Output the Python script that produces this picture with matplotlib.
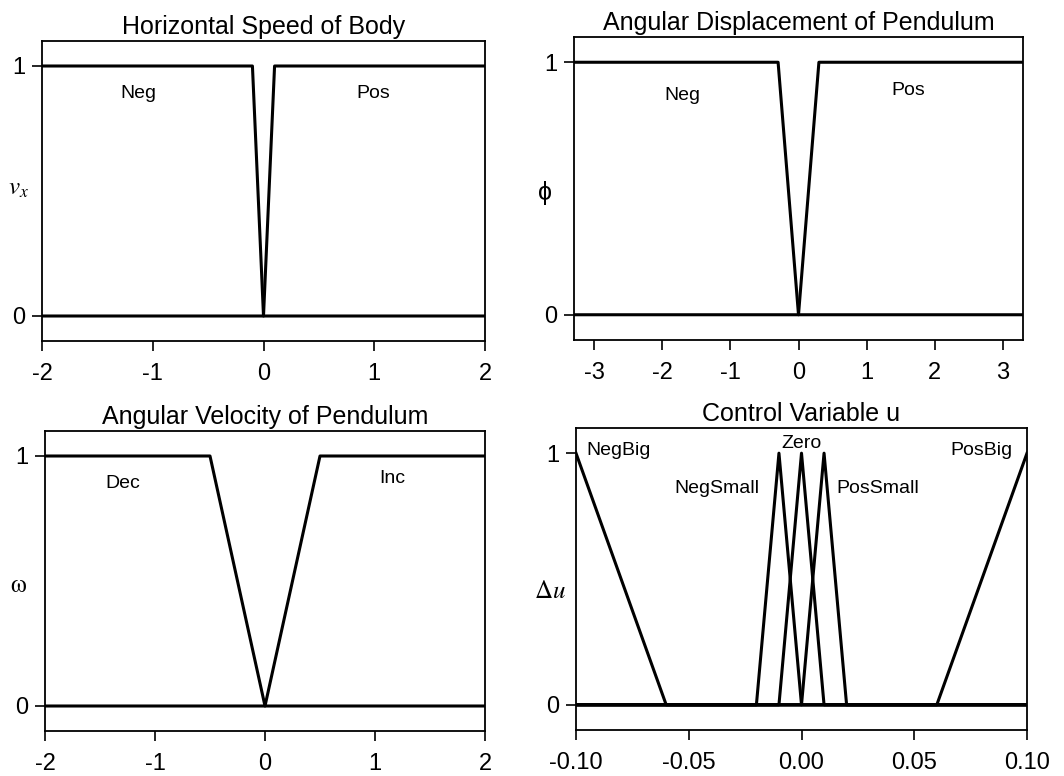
"""Membership functions of the fuzzy pendulum controller, 2x2 panels."""

import matplotlib
matplotlib.use("Agg")
import matplotlib.pyplot as plt
from matplotlib.ticker import FormatStrFormatter

plt.rcParams["font.family"] = ["Liberation Sans", "DejaVu Sans"]
plt.rcParams["mathtext.fontset"] = "stix"
plt.rcParams["axes.unicode_minus"] = False

# Horizontal speed of body
vx_x = [-2, -0.1, 0, 0.1, 2]
vx_neg = [1, 1, 0, 0, 0]
vx_pos = [0, 0, 0, 1, 1]

# Angular displacement of pendulum
phi_x = [-3.3, -0.3, 0, 0.3, 3.3]
phi_neg = [1, 1, 0, 0, 0]
phi_pos = [0, 0, 0, 1, 1]

# Angular velocity of pendulum
om_x = [-2, -0.5, 0, 0.5, 2]
om_dec = [1, 1, 0, 0, 0]
om_inc = [0, 0, 0, 1, 1]

# Control variable u
u_x = [-0.10, -0.06, -0.02, -0.01, 0.0, 0.01, 0.02, 0.06, 0.10]
u_negbig = [1, 0, 0, 0, 0, 0, 0, 0, 0]
u_negsmall = [0, 0, 0, 1, 0, 0, 0, 0, 0]
u_zero = [0, 0, 0, 0, 1, 0, 0, 0, 0]
u_possmall = [0, 0, 0, 0, 0, 1, 0, 0, 0]
u_posbig = [0, 0, 0, 0, 0, 0, 0, 0, 1]

W, H = 1064, 776
fig = plt.figure(figsize=(W / 100, H / 100), dpi=100)

TICK_FS = 17
TITLE_FS = 18
NOTE_FS = 14
LW = 2.2


def px_axes(left, top, right, bottom):
    return fig.add_axes([left / W, 1 - bottom / H, (right - left) / W, (bottom - top) / H])


def style(ax, title, ylabel, label_xy, xlim, xticks):
    ax.set_xlim(*xlim)
    ax.set_ylim(-0.1, 1.1)
    ax.set_yticks([0, 1])
    ax.set_xticks(xticks)
    ax.tick_params(direction="out", length=7, width=1.2, labelsize=TICK_FS, color="black")
    ax.tick_params(axis="y", pad=5)
    ax.tick_params(axis="x", pad=9)
    for s in ax.spines.values():
        s.set_linewidth(1.3)
    ax.set_title(title, fontsize=TITLE_FS, pad=5)
    ax.set_ylabel(ylabel, rotation=0, fontsize=18, ha="center", va="center")
    ax.yaxis.set_label_coords(*label_xy)


# panel 1
ax1 = px_axes(42, 41, 485, 341)
ax1.plot(vx_x, vx_neg, color="black", lw=LW)
ax1.plot(vx_x, vx_pos, color="black", lw=LW)
ax1.text(-1.13, 0.89, "Neg", ha="center", va="center", fontsize=NOTE_FS)
ax1.text(0.99, 0.89, "Pos", ha="center", va="center", fontsize=NOTE_FS)
style(ax1, "Horizontal Speed of Body", r"$v_x$", (-0.054, 0.51), (-2, 2), [-2, -1, 0, 1, 2])

# panel 2
ax2 = px_axes(574, 37, 1023, 340)
ax2.plot(phi_x, phi_neg, color="black", lw=LW)
ax2.plot(phi_x, phi_pos, color="black", lw=LW)
ax2.text(-1.7, 0.87, "Neg", ha="center", va="center", fontsize=NOTE_FS)
ax2.text(1.62, 0.89, "Pos", ha="center", va="center", fontsize=NOTE_FS)
style(ax2, "Angular Displacement of Pendulum", "ϕ", (-0.065, 0.485), (-3.3, 3.3),
      [-3, -2, -1, 0, 1, 2, 3])

# panel 3
ax3 = px_axes(45, 431, 485, 731)
ax3.plot(om_x, om_dec, color="black", lw=LW)
ax3.plot(om_x, om_inc, color="black", lw=LW)
ax3.text(-1.29, 0.89, "Dec", ha="center", va="center", fontsize=NOTE_FS)
ax3.text(1.16, 0.91, "Inc", ha="center", va="center", fontsize=NOTE_FS)
style(ax3, "Angular Velocity of Pendulum", r"$\mathrm{\omega}$", (-0.061, 0.487), (-2, 2),
      [-2, -1, 0, 1, 2])

# panel 4
ax4 = px_axes(576, 428, 1027, 730)
for ys in (u_negbig, u_negsmall, u_zero, u_possmall, u_posbig):
    ax4.plot(u_x, ys, color="black", lw=LW)
ax4.text(-0.081, 1.01, "NegBig", ha="center", va="center", fontsize=NOTE_FS)
ax4.text(0.0, 1.04, "Zero", ha="center", va="center", fontsize=NOTE_FS)
ax4.text(-0.0375, 0.86, "NegSmall", ha="center", va="center", fontsize=NOTE_FS)
ax4.text(0.034, 0.86, "PosSmall", ha="center", va="center", fontsize=NOTE_FS)
ax4.text(0.08, 1.01, "PosBig", ha="center", va="center", fontsize=NOTE_FS)
style(ax4, "Control Variable u", r"$\Delta u$", (-0.058, 0.46), (-0.1, 0.1),
      [-0.10, -0.05, 0.0, 0.05, 0.10])
ax4.xaxis.set_major_formatter(FormatStrFormatter("%.2f"))

fig.savefig("out.png", dpi=100, facecolor="white")
